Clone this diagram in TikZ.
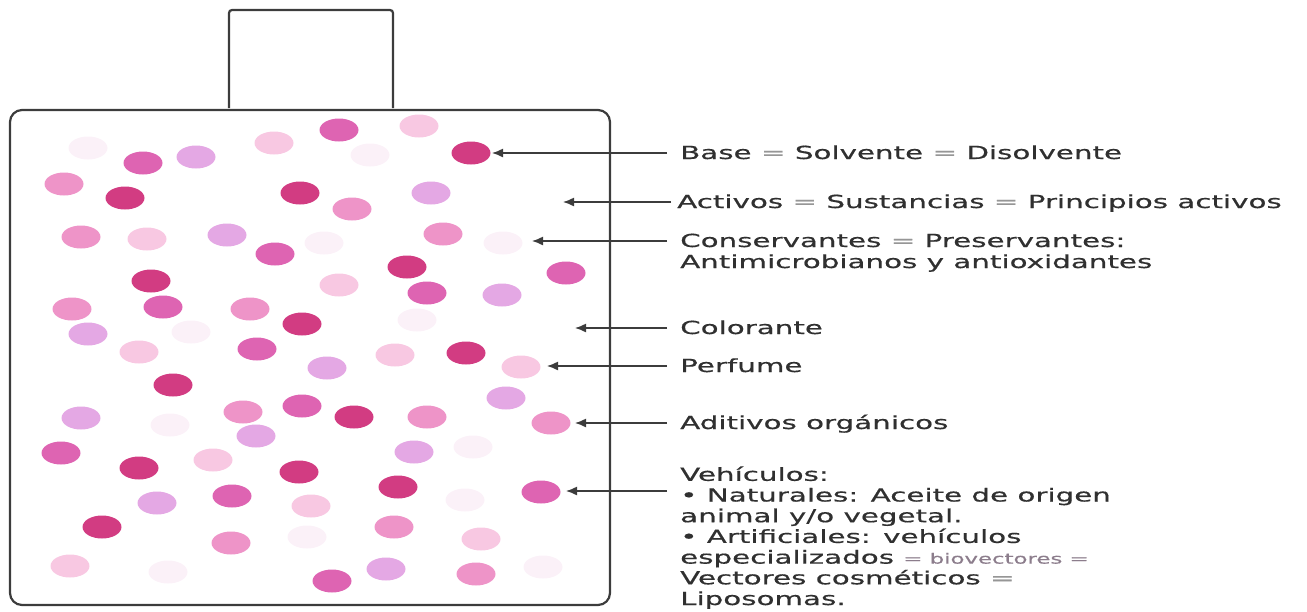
\documentclass[tikz,border=0pt]{standalone}
\usepackage{fontspec}
\usetikzlibrary{arrows.meta}
\newfontfamily\lblfont{DejaVu Sans}[FakeStretch=1.63,FakeBold=0.6]
\definecolor{dk}{RGB}{210,60,130}
\definecolor{md}{RGB}{222,100,178}
\definecolor{pk}{RGB}{238,148,200}
\definecolor{lt}{RGB}{248,200,226}
\definecolor{lv}{RGB}{228,168,228}
\definecolor{ft}{RGB}{251,241,248}
\definecolor{txtgray}{RGB}{48,48,48}
\definecolor{eqgray}{RGB}{150,150,150}
\definecolor{biogray}{RGB}{140,125,140}
\definecolor{linegray}{RGB}{60,60,60}
\newcommand{\eqs}{{\color{eqgray}=}}
\begin{document}
\begin{tikzpicture}[x=1pt,y=-1pt,
  lbl/.style={anchor=base west, inner xsep=13pt, inner ysep=0pt,
    font=\lblfont\fontsize{18}{21}\selectfont, text=txtgray, align=left},
  arr/.style={draw=linegray, line width=1.4pt, -{Latex[length=11pt,width=9pt]}},
  outline/.style={draw=linegray, line width=2.2pt}]
\useasboundingbox (0,0) rectangle (1307,611);
% dots
\foreach \px/\py/\c in {
 88/148/ft, 143/163/md, 196/157/lv, 274/143/lt, 339/130/md, 419/126/lt, 370/155/ft, 471/153/dk,
 64/184/pk, 125/198/dk, 300/193/dk, 352/209/pk, 431/193/lv,
 81/237/pk, 147/239/lt, 227/235/lv, 275/254/md, 324/243/ft, 443/234/pk, 503/243/ft,
 407/267/dk, 566/273/md, 151/281/dk, 339/285/lt, 427/293/md, 502/295/lv,
 72/309/pk, 163/307/md, 250/309/pk, 302/324/dk, 88/334/lv, 191/332/ft, 417/320/ft,
 139/352/lt, 257/349/md, 395/355/lt, 466/353/dk, 327/368/lv, 521/367/lt,
 173/385/dk, 506/398/lv, 81/418/lv, 170/425/ft, 243/412/pk, 302/406/md, 354/417/dk,
 427/417/pk, 551/423/pk, 256/436/lv, 61/453/md, 414/452/lv, 473/447/ft,
 139/468/dk, 213/460/lt, 299/472/dk, 398/487/dk, 541/492/md, 465/500/ft,
 157/503/lv, 232/496/md, 311/506/lt, 102/527/dk, 394/527/pk, 307/537/ft,
 231/543/pk, 481/539/lt, 70/566/lt, 168/572/ft, 332/581/md, 386/569/lv,
 476/574/pk, 543/567/ft}
 \fill[\c] (\px,\py) ellipse [x radius=19.5pt, y radius=11.5pt];
% bottle
\draw[outline, rounded corners=3pt] (229,108) -- (229,10) -- (393,10) -- (393,108);
\draw[outline, rounded corners=12pt] (10,110) rectangle (610,605);
% labels (multi-line nodes: base = last line)
\node[lbl] (base) at (667,159) {Base \eqs{} Solvente \eqs{} Disolvente};
\node[lbl, inner xsep=6pt] (act) at (671,208) {Activos \eqs{} Sustancias \eqs{} Principios activos};
\node[lbl] (cons) at (667,268) {Conservantes \eqs{} Preservantes:\\Antimicrobianos y antioxidantes};
\node[lbl] (col) at (667,334) {Colorante};
\node[lbl] (perf) at (667,372) {Perfume};
\node[lbl] (adit) at (667,429) {Aditivos orgánicos};
\node[lbl, font=\lblfont\fontsize{18}{20.7}\selectfont] (veh) at (667,605) {Vehículos:\\• Naturales: Aceite de origen\\animal y/o vegetal.\\• Artificiales: vehículos\\especializados {\color{biogray}\fontsize{14}{20.7}\selectfont = biovectores =}\\Vectores cosméticos \eqs\\Liposomas.};
% arrow tips
\coordinate (tbase) at (492,153);
\coordinate (tact) at (563,202);
\coordinate (tcons) at (532,241);
\coordinate (tcol) at (575,328);
\coordinate (tperf) at (547,366);
\coordinate (tadit) at (575,423);
\coordinate (tveh) at (566,491);
\draw[arr] (base.west |- tbase) -- (tbase);
\draw[arr] (act.west |- tact) -- (tact);
\draw[arr] (cons.west |- tcons) -- (tcons);
\draw[arr] (col.west |- tcol) -- (tcol);
\draw[arr] (perf.west |- tperf) -- (tperf);
\draw[arr] (adit.west |- tadit) -- (tadit);
\draw[arr] (veh.west |- tveh) -- (tveh);
\end{tikzpicture}
\end{document}
